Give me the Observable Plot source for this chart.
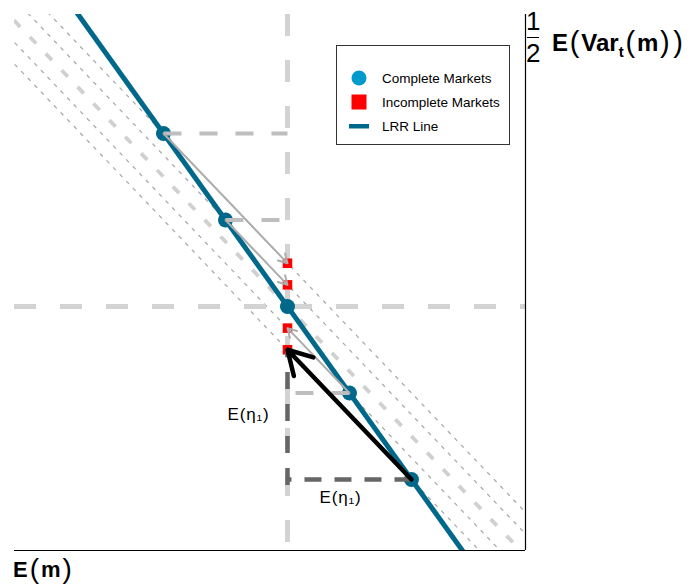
<!DOCTYPE html>
<html><head><meta charset="utf-8">
<script src="https://cdn.jsdelivr.net/npm/d3@7"></script>
<script src="https://cdn.jsdelivr.net/npm/@observablehq/plot@0.6"></script>
<style>
body{margin:0;background:#fff;font-family:"Liberation Sans",Arial,sans-serif;}
#wrap{position:relative;width:691px;height:585px;overflow:hidden;}
#wrap > svg.main{position:absolute;left:0;top:0;}
#wrap svg.main text{letter-spacing:0.8px;}
.xlab{position:absolute;left:13px;top:555px;font-size:22px;font-weight:bold;line-height:1;color:#000;white-space:nowrap;}
.xlab .p{font-weight:normal;font-size:28px;margin:0 2px;vertical-align:-1px;}
.frac{position:absolute;left:526px;top:8px;display:flex;flex-direction:column;align-items:center;font-size:26px;line-height:1;color:#000;}
.frac .bar{width:12px;border-top:1.5px solid #000;margin:3px 0 1.5px 0;}
.yt{position:absolute;left:552px;top:28px;font-size:24px;font-weight:bold;line-height:1;color:#000;white-space:nowrap;}
.yt .p{font-weight:normal;font-size:29px;margin:0 1.8px;vertical-align:-1px;}
.yt sub{font-size:15px;vertical-align:-6px;}
.legend{position:absolute;left:336px;top:45px;width:172px;height:98px;border:1.5px solid #333;background:#fff;font-size:13.5px;}
.legend .row{position:absolute;left:0;height:20px;display:flex;align-items:center;}
.legend .key{width:44px;display:flex;justify-content:center;align-items:center;}
</style></head><body><div id="wrap"></div>
<script>
// ---- data ----
const completeX = [-2, -1, 0, 1, 2];
const completeY = [2, 1, 0, -1, -2];
const incompleteX = [0, 0, 0, 0];
const incompleteY = [0.5, 0.25, -0.25, -0.5];
const isoLevels = [0.5, 0.25, -0.25, -0.5];
const isoCenterLevel = [0];
const isoSlope = -0.75;
const lrrSlope = -1;
const grayArrowPairs = [[0, 0], [1, 1], [3, 2]]; // complete index -> incomplete index
const blackArrowPair = [[4, 3]];
const lightGuideIdx = [0, 1, 3];
const darkGuideIdx = [4];
const legendLabels = ["Complete Markets", "Incomplete Markets", "LRR Line"];
const etaLabel = "E(η₁)";
const xDomain = [-4.403, 3.839];
const yDomain = [-2.821, 3.376];

// ---- derived tables ----
const complete = completeX.map((x, i) => ({x, y: completeY[i]}));
const incomplete = incompleteX.map((x, i) => ({x, y: incompleteY[i]}));
const ext = 8;
const lineThrough = (c, s) => ({x1: -ext, y1: c + s * -ext, x2: ext, y2: c + s * ext});
const isoThin = isoLevels.map(c => lineThrough(c, isoSlope));
const isoThick = isoCenterLevel.map(c => lineThrough(c, isoSlope));
const lrr = [lineThrough(0, lrrSlope)];
const toArrow = ([a, b]) => ({x1: complete[a].x, y1: complete[a].y, x2: incomplete[b].x, y2: incomplete[b].y});
const grayArrows = grayArrowPairs.map(toArrow);
const blackArrows = blackArrowPair.map(toArrow);
const lightGuides = lightGuideIdx.map(i => ({x1: complete[i].x, y1: complete[i].y, x2: 0, y2: complete[i].y}));
const darkH = darkGuideIdx.map(i => ({x1: complete[i].x, y1: complete[i].y, x2: 0, y2: complete[i].y}));
const darkV = blackArrowPair.map(([a, b]) => ({x: 0, y1: complete[a].y, y2: incomplete[b].y}));
const vLabel = blackArrowPair.map(([a, b]) => ({x: 0, y: (complete[a].y + incomplete[b].y) / 2, t: etaLabel}));
const hLabel = blackArrowPair.map(([a]) => ({x: complete[a].x / 2, y: complete[a].y, t: etaLabel}));

const teal = "#00688B";
const plot = Plot.plot({
  width: 691, height: 585,
  marginLeft: 14, marginRight: 166, marginTop: 14, marginBottom: 35,
  x: {domain: xDomain, axis: null},
  y: {domain: yDomain, axis: null},
  className: "main",
  style: {fontFamily: "Liberation Sans, Arial, sans-serif", background: "transparent"},
  marks: [
    Plot.link(isoThin, {x1: "x1", y1: "y1", x2: "x2", y2: "y2", stroke: "#a6a6a6", strokeWidth: 1.2, strokeDasharray: "4,5.5", clip: true}),
    Plot.link(isoThick, {x1: "x1", y1: "y1", x2: "x2", y2: "y2", stroke: "#d0d0d0", strokeWidth: 3.8, strokeDasharray: "9,14", clip: true}),
    Plot.ruleX([0], {stroke: "#d3d3d3", strokeWidth: 5, strokeDasharray: "22,24"}),
    Plot.ruleY([0], {stroke: "#d3d3d3", strokeWidth: 5, strokeDasharray: "22,24"}),
    Plot.ruleY([yDomain[0]], {stroke: "#000", strokeWidth: 1.2}),
    Plot.ruleX([xDomain[1]], {stroke: "#000", strokeWidth: 1.2}),
    Plot.dot(incomplete, {x: "x", y: "y", symbol: "square", r: 5.4, fill: "red", stroke: "none"}),
    Plot.link(lrr, {x1: "x1", y1: "y1", x2: "x2", y2: "y2", stroke: teal, strokeWidth: 5, clip: true}),
    Plot.dot(complete, {x: "x", y: "y", r: 7.5, fill: teal, stroke: "none"}),
    Plot.link(lightGuides, {x1: "x1", y1: "y1", x2: "x2", y2: "y2", stroke: "#bebebe", strokeWidth: 4, strokeDasharray: "18,18"}),
    Plot.link(darkH, {x1: "x1", y1: "y1", x2: "x2", y2: "y2", stroke: "#666", strokeWidth: 4.5, strokeDasharray: "17,13"}),
    Plot.ruleX(darkV, {x: "x", y1: "y1", y2: "y2", stroke: "#666", strokeWidth: 4.5, strokeDasharray: "17,15", insetTop: 6}),
    Plot.arrow(grayArrows, {x1: "x1", y1: "y1", x2: "x2", y2: "y2", stroke: "#adadad", strokeWidth: 2, headLength: 7.5, headAngle: 60}),
    Plot.arrow(blackArrows, {x1: "x1", y1: "y1", x2: "x2", y2: "y2", stroke: "#000", strokeWidth: 4.5, headLength: 9, headAngle: 60}),
    Plot.text(vLabel, {x: "x", y: "y", text: "t", dx: -39, fontSize: 17, fill: "#000"}),
    Plot.text(hLabel, {x: "x", y: "y", text: "t", dx: -9, dy: 18, fontSize: 17, fill: "#000"})
  ]
});
const wrap = document.getElementById("wrap");
wrap.appendChild(plot);

// axis titles
const xl = document.createElement("div");
xl.className = "xlab";
xl.innerHTML = 'E<span class="p">(</span>m<span class="p">)</span>';
wrap.appendChild(xl);
const fr = document.createElement("div");
fr.className = "frac";
fr.innerHTML = '<span>1</span><span class="bar"></span><span>2</span>';
wrap.appendChild(fr);
const yt = document.createElement("div");
yt.className = "yt";
yt.innerHTML = 'E<span class="p">(</span>Var<sub>t</sub><span class="p">(</span>m<span class="p">)</span><span class="p">)</span>';
wrap.appendChild(yt);

// legend
const lg = document.createElement("div");
lg.className = "legend";
const keys = [
  '<svg width="16" height="16"><circle cx="8" cy="8" r="7.5" fill="#009ACD"/></svg>',
  '<svg width="16" height="16"><rect x="0.5" y="0.5" width="15" height="15" fill="red"/></svg>',
  '<svg width="20" height="6"><rect x="0" y="1" width="20" height="4.5" fill="' + teal + '"/></svg>'
];
const rowTops = [22, 46, 70];
legendLabels.forEach((lab, i) => {
  const r = document.createElement("div");
  r.className = "row";
  r.style.top = rowTops[i] + "px";
  r.innerHTML = '<div class="key">' + keys[i] + '</div><div style="margin-left:1px">' + lab + '</div>';
  lg.appendChild(r);
});
wrap.appendChild(lg);
</script>
</body></html>
